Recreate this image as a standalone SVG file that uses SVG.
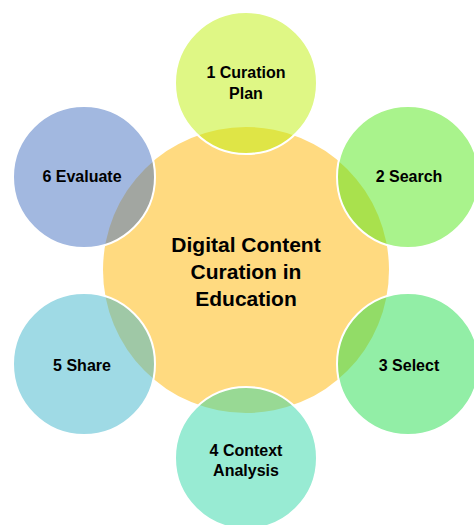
<svg xmlns="http://www.w3.org/2000/svg" width="474" height="525" viewBox="0 0 474 525">
  <style>
    .hub { fill: #FFDA80; }
    .petal { fill-opacity: 0.5; stroke: #FFFFFF; stroke-width: 2; }
    .lbl { font-family: "Liberation Sans", Arial, sans-serif; font-weight: bold; font-size: 16px; fill: #000000; text-anchor: middle; }
    .hub-lbl { font-family: "Liberation Sans", Arial, sans-serif; font-weight: bold; font-size: 21px; fill: #000000; text-anchor: middle; }
  </style>
  <rect width="474" height="525" fill="#FFFFFF"/>

  <!-- central topic -->
  <g id="hub">
    <circle class="hub" cx="246" cy="270" r="143"/>
  </g>

  <!-- no connectors: the stages overlap the hub directly -->
  <g id="connectors"></g>

  <g id="stage1">
    <circle class="petal" cx="246" cy="83" r="71" fill="#BFEF0B"/>
  </g>
  <g id="stage2">
    <circle class="petal" cx="408" cy="177" r="71" fill="#53E719"/>
  </g>
  <g id="stage3">
    <circle class="petal" cx="408" cy="364" r="71" fill="#25DD4D"/>
  </g>
  <g id="stage4">
    <circle class="petal" cx="246" cy="458" r="71" fill="#31D7A7"/>
  </g>
  <g id="stage5">
    <circle class="petal" cx="84" cy="364" r="71" fill="#3FB5CB"/>
  </g>
  <g id="stage6">
    <circle class="petal" cx="84" cy="177" r="71" fill="#4571C1"/>
  </g>

  <!-- labels -->
  <g id="hub-label">
    <text class="hub-lbl" x="246" y="252">Digital Content</text>
    <text class="hub-lbl" x="246" y="279">Curation in</text>
    <text class="hub-lbl" x="246" y="306">Education</text>
  </g>
  <text class="lbl" x="246" y="78">1 Curation</text>
  <text class="lbl" x="246" y="99">Plan</text>
  <text class="lbl" x="409" y="182">2 Search</text>
  <text class="lbl" x="409" y="371">3 Select</text>
  <text class="lbl" x="246" y="456">4 Context</text>
  <text class="lbl" x="246" y="476">Analysis</text>
  <text class="lbl" x="82" y="371">5 Share</text>
  <text class="lbl" x="82" y="182">6 Evaluate</text>
</svg>
